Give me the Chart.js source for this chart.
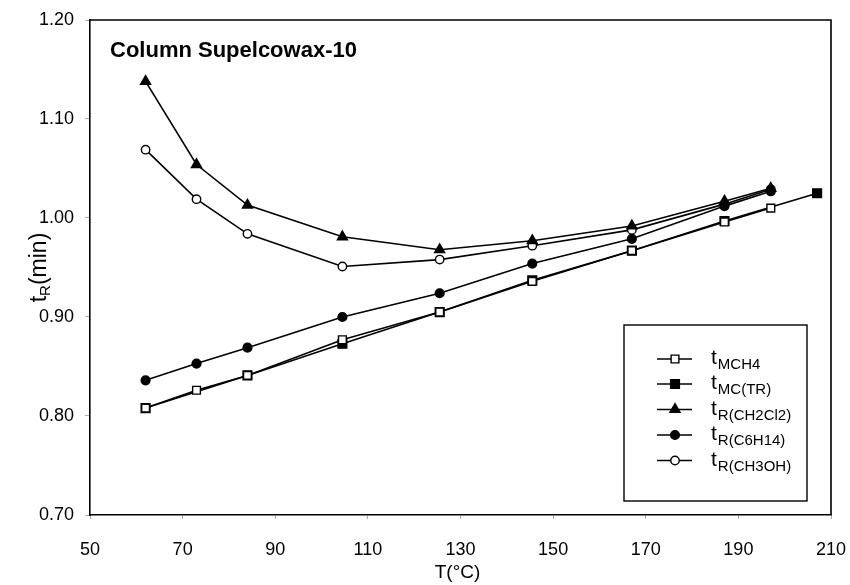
<!DOCTYPE html>
<html>
<head>
<meta charset="utf-8">
<script src="https://cdn.jsdelivr.net/npm/chart.js@4.4.1/dist/chart.umd.min.js"></script>
<style>
  html, body { margin: 0; padding: 0; background: #fff; }
  #wrap { width: 850px; height: 585px; }
</style>
</head>
<body>
<div id="wrap"><canvas id="c" width="850" height="585"></canvas></div>
<script>
// ---- data ----
const xTicks = [50, 70, 90, 110, 130, 150, 170, 190, 210];
const yTicks = [0.70, 0.80, 0.90, 1.00, 1.10, 1.20];

const tMCH4 = [62, 73, 84, 104.5, 125.5, 145.5, 167, 187, 197];
const vMCH4 = [0.808, 0.826, 0.841, 0.877, 0.905, 0.936, 0.967, 0.996, 1.010];

const tMCTR = [62, 84, 104.5, 125.5, 145.5, 167, 187, 207];
const vMCTR = [0.808, 0.841, 0.873, 0.905, 0.937, 0.967, 0.997, 1.025];

const tSolv = [62, 73, 84, 104.5, 125.5, 145.5, 167, 187, 197];
const vCH2Cl2 = [1.138, 1.054, 1.013, 0.981, 0.968, 0.977, 0.992, 1.017, 1.030];
const vC6H14 = [0.836, 0.853, 0.869, 0.900, 0.924, 0.954, 0.979, 1.012, 1.027];
const vCH3OH = [1.069, 1.019, 0.984, 0.951, 0.958, 0.972, 0.988, 1.014, 1.029];

const legendMain = ['t', 't', 't', 't', 't'];
const legendSub = ['MCH4', 'MC(TR)', 'R(CH2Cl2)', 'R(C6H14)', 'R(CH3OH)'];
const plotLabel = 'Column Supelcowax-10';
const xTitle = 'T(°C)';
const yTitleMain = 't';
const yTitleSub = 'R';
const yTitleRest = '(min)';

const FONT = '"Liberation Sans", Arial, sans-serif';

function pts(xs, ys) { return xs.map((x, i) => ({ x: x, y: ys[i] })); }

const styles = [
  { pointStyle: 'rect', radius: 5.5, fill: '#ffffff' },
  { pointStyle: 'rect', radius: 6.2, fill: '#000000' },
  { pointStyle: 'triangle', radius: 5.8, fill: '#000000' },
  { pointStyle: 'circle', radius: 4.4, fill: '#000000' },
  { pointStyle: 'circle', radius: 4.2, fill: '#ffffff' }
];

const series = [
  pts(tMCH4, vMCH4),
  pts(tMCTR, vMCTR),
  pts(tSolv, vCH2Cl2),
  pts(tSolv, vC6H14),
  pts(tSolv, vCH3OH)
];

const datasets = series.map((d, i) => ({
  label: legendMain[i] + legendSub[i],
  data: d,
  showLine: true,
  borderColor: '#000',
  borderWidth: 1.6,
  backgroundColor: styles[i].fill,
  pointStyle: styles[i].pointStyle,
  pointRadius: styles[i].radius,
  pointHoverRadius: styles[i].radius,
  pointBackgroundColor: styles[i].fill,
  pointBorderColor: '#000',
  pointBorderWidth: 1.4,
  tension: 0
}));

const decor = {
  id: 'decor',
  afterDraw(chart) {
    const ctx = chart.ctx;
    const a = chart.chartArea;
    ctx.save();
    // frame top/right
    ctx.strokeStyle = '#000';
    ctx.lineWidth = 1.6;
    ctx.beginPath();
    ctx.moveTo(a.left, a.top);
    ctx.lineTo(a.right, a.top);
    ctx.lineTo(a.right, a.bottom);
    ctx.stroke();

    ctx.fillStyle = '#000';
    // in-plot label
    ctx.font = 'bold 22px ' + FONT;
    ctx.textBaseline = 'middle';
    ctx.textAlign = 'left';
    ctx.fillText(plotLabel, 110, 51);

    // x title
    ctx.font = '19px ' + FONT;
    ctx.textAlign = 'center';
    ctx.fillText(xTitle, (a.left + a.right) / 2 - 3, 573);

    // y title with subscript, rotated
    ctx.save();
    ctx.translate(38, (a.top + a.bottom) / 2);
    ctx.rotate(-Math.PI / 2);
    ctx.textAlign = 'left';
    ctx.textBaseline = 'alphabetic';
    ctx.font = '23px ' + FONT;
    const w1 = ctx.measureText(yTitleMain).width;
    ctx.font = '15px ' + FONT;
    const w2 = ctx.measureText(yTitleSub).width;
    ctx.font = '23px ' + FONT;
    const w3 = ctx.measureText(yTitleRest).width;
    let sx = -(w1 + w2 + w3) / 2;
    ctx.font = '23px ' + FONT;
    ctx.fillText(yTitleMain, sx, 8);
    ctx.font = '15px ' + FONT;
    ctx.fillText(yTitleSub, sx + w1, 12);
    ctx.font = '23px ' + FONT;
    ctx.fillText(yTitleRest, sx + w1 + w2, 8);
    ctx.restore();

    // legend box
    const bx = 624, by = 325, bw = 183, bh = 176;
    ctx.fillStyle = '#fff';
    ctx.fillRect(bx, by, bw, bh);
    ctx.strokeStyle = '#000';
    ctx.lineWidth = 1.4;
    ctx.strokeRect(bx, by, bw, bh);
    const rows = [359, 384, 409.5, 435, 460.5];
    chart.data.datasets.forEach((ds, i) => {
      const y = rows[i];
      ctx.strokeStyle = '#000';
      ctx.lineWidth = 1.4;
      ctx.beginPath();
      ctx.moveTo(657, y);
      ctx.lineTo(692, y);
      ctx.stroke();
      ctx.fillStyle = ds.pointBackgroundColor;
      Chart.helpers.drawPoint(ctx, {
        pointStyle: ds.pointStyle, rotation: 0, borderWidth: 1.4,
        radius: ds.pointRadius
      }, 675, y);
      ctx.fillStyle = '#000';
      ctx.textAlign = 'left';
      ctx.textBaseline = 'alphabetic';
      ctx.font = '21px ' + FONT;
      ctx.fillText(legendMain[i], 711, y + 5);
      const tw = ctx.measureText(legendMain[i]).width;
      ctx.font = '15px ' + FONT;
      ctx.fillText(legendSub[i], 711 + tw + 1, y + 10);
    });
    ctx.restore();
  }
};

new Chart(document.getElementById('c'), {
  type: 'scatter',
  data: { datasets: datasets },
  options: {
    responsive: false,
    animation: false,
    layout: { padding: { left: 0, right: 19, top: 20, bottom: 0 } },
    plugins: { legend: { display: false }, tooltip: { enabled: false } },
    scales: {
      x: {
        type: 'linear', min: 50, max: 210,
        afterBuildTicks(s) { s.ticks = xTicks.map(v => ({ value: v })); },
        afterFit(s) { s.height = 70; s.paddingLeft = 0; s.paddingRight = 0; },
        grid: { display: true, drawOnChartArea: false, drawTicks: true, tickLength: 4, color: '#aaa' },
        border: { display: true, color: '#000', width: 1.6 },
        ticks: { color: '#000', font: { family: FONT, size: 18 }, padding: 20, maxRotation: 0 }
      },
      y: {
        type: 'linear', min: 0.70, max: 1.20,
        afterBuildTicks(s) { s.ticks = yTicks.map(v => ({ value: v })); },
        afterFit(s) { s.width = 90; s.paddingTop = 0; s.paddingBottom = 0; },
        grid: { display: true, drawOnChartArea: false, drawTicks: true, tickLength: 5, color: '#aaa' },
        border: { display: true, color: '#000', width: 1.6 },
        ticks: { color: '#000', font: { family: FONT, size: 18 }, padding: 11,
                 callback: v => v.toFixed(2) }
      }
    }
  },
  plugins: [decor]
});
</script>
</body>
</html>
